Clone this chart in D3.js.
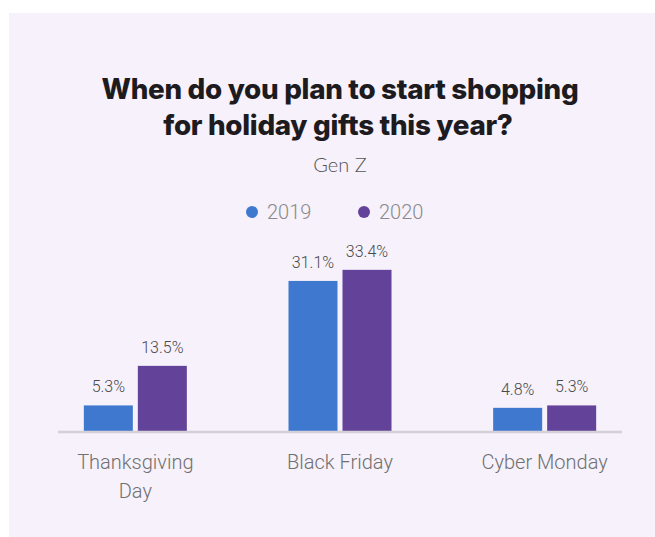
<!DOCTYPE html>
<html>
<head>
<meta charset="utf-8">
<script src="https://cdn.jsdelivr.net/npm/d3@7"></script>
<style>
  html, body { margin: 0; padding: 0; background: #ffffff; }
  svg { display: block; }
</style>
</head>
<body>
<svg id="chart" width="655" height="537"></svg>
<script>
// Survey data: share of Gen Z respondents by planned start of holiday shopping
const categories = ["Thanksgiving Day", "Black Friday", "Cyber Monday"];
const categoryLines = [["Thanksgiving", "Day"], ["Black Friday"], ["Cyber Monday"]];
const years = ["2019", "2020"];
const values2019 = [5.3, 31.1, 4.8];
const values2020 = [13.5, 33.4, 5.3];
const yearColors = ["#3f78cf", "#634399"];

const svg = d3.select("#chart");
const W = 655, H = 537;

// panel background
svg.append("rect")
  .attr("x", 9).attr("y", 13)
  .attr("width", W - 9).attr("height", H - 13)
  .attr("fill", "#f6f1fb");

// title
const title = svg.append("text")
  .attr("text-anchor", "middle")
  .attr("font-family", "Inter, 'Open Sans', sans-serif")
  .attr("font-weight", 800)
  .attr("font-size", 27.8)
  .attr("fill", "#1e1b1f")
  .attr("letter-spacing", -0.3);
title.append("tspan").attr("x", 340).attr("y", 99).text("When do you plan to start shopping");
title.append("tspan").attr("x", 338).attr("y", 135).text("for holiday gifts this year?");

// subtitle
svg.append("text")
  .attr("x", 340).attr("y", 172)
  .attr("text-anchor", "middle")
  .attr("font-family", "Lato, 'Open Sans', sans-serif")
  .attr("font-weight", 300)
  .attr("font-size", 20)
  .attr("fill", "#555")
  .text("Gen Z");

// legend
const legendX = [252, 364];
const legend = svg.append("g").selectAll("g")
  .data(years)
  .join("g")
  .attr("transform", (d, i) => `translate(${legendX[i]},212)`);
legend.append("circle").attr("r", 6).attr("fill", (d, i) => yearColors[i]);
legend.append("text")
  .attr("x", 15).attr("y", 7)
  .attr("font-family", "Roboto, sans-serif")
  .attr("font-weight", 300)
  .attr("font-size", 20)
  .attr("fill", "#8a8a8a")
  .text(d => d);

// scales
const baseY = 431;
const y = d3.scaleLinear().domain([0, 40]).range([baseY, baseY - 193]);
const x0 = d3.scaleBand().domain(categories).range([33, 647]);
const groupW = 103;
const x1 = d3.scaleBand().domain(years)
  .range([x0.bandwidth() / 2 - groupW / 2, x0.bandwidth() / 2 + groupW / 2])
  .paddingInner(5 / 54);

const rows = categories.map((c, i) => ({
  category: c,
  lines: categoryLines[i],
  values: [values2019[i], values2020[i]]
}));

const groups = svg.append("g").selectAll("g")
  .data(rows)
  .join("g")
  .attr("transform", d => `translate(${x0(d.category)},0)`);

const bars = groups.selectAll("g.bar")
  .data(d => years.map((yr, j) => ({ year: yr, j, value: d.values[j] })))
  .join("g").attr("class", "bar");

bars.append("rect")
  .attr("x", d => x1(d.year))
  .attr("width", x1.bandwidth())
  .attr("y", d => y(d.value))
  .attr("height", d => y(0) - y(d.value))
  .attr("fill", d => yearColors[d.j]);

bars.append("text")
  .attr("x", d => x1(d.year) + x1.bandwidth() / 2)
  .attr("y", d => y(d.value) - 13)
  .attr("text-anchor", "middle")
  .attr("font-family", "Roboto, sans-serif")
  .attr("font-weight", 300)
  .attr("font-size", 16)
  .attr("fill", "#4a4a4a")
  .text(d => d.value.toFixed(1) + "%");

// baseline
svg.append("line")
  .attr("x1", 58).attr("x2", 622)
  .attr("y1", baseY + 1).attr("y2", baseY + 1)
  .attr("stroke", "#d3d0d6")
  .attr("stroke-width", 2.5);

// category labels
const catText = groups.append("text")
  .attr("text-anchor", "middle")
  .attr("font-family", "Roboto, sans-serif")
  .attr("font-weight", 300)
  .attr("font-size", 20)
  .attr("fill", "#707070");
catText.selectAll("tspan")
  .data(d => d.lines)
  .join("tspan")
  .attr("x", x0.bandwidth() / 2)
  .attr("y", (d, i) => 469 + i * 29)
  .text(d => d);
</script>
</body>
</html>
